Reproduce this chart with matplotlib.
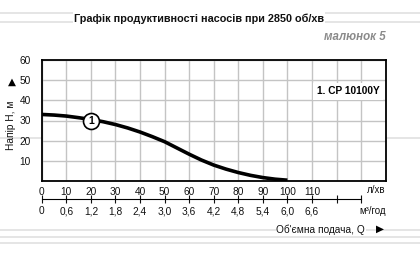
import matplotlib
matplotlib.use("Agg")
import matplotlib.pyplot as plt
from matplotlib.lines import Line2D

plt.rcParams['font.family'] = ['Liberation Sans', 'DejaVu Sans']

# Data
flow_lpm = [0, 5, 10, 15, 20, 25, 30, 35, 40, 45, 50, 55, 60, 65, 70, 75, 80, 85, 90, 95, 100]
head_m = [33.0, 32.7, 32.2, 31.4, 30.5, 29.4, 28.0, 26.3, 24.3, 22.0, 19.5, 16.4, 13.3, 10.4, 7.9, 5.9, 4.2, 2.8, 1.7, 0.9, 0.4]
x_ticks_lpm = [0, 10, 20, 30, 40, 50, 60, 70, 80, 90, 100, 110, 120, 130, 140]
x_labels_lpm = ['0', '10', '20', '30', '40', '50', '60', '70', '80', '90', '100', '110', '', '', '']
x_ticks_m3h = [0, 10, 20, 30, 40, 50, 60, 70, 80, 90, 100, 110, 120, 130]
x_labels_m3h = ['0', '0,6', '1,2', '1,8', '2,4', '3,0', '3,6', '4,2', '4,8', '5,4', '6,0', '6,6', '', '']
y_ticks = [0, 10, 20, 30, 40, 50, 60]
y_labels = ['', '10', '20', '30', '40', '50', '60']
curve_label = '1'
curve_name = '1. CP 10100Y'
label_at = (20, 30)

W, H = 420, 256
fig = plt.figure(figsize=(W / 100, H / 100), dpi=100)

def fy(py):
    return 1 - py / H

def fx(px):
    return px / W

# decorative light gray rules
for py in (12.5, 22.0, 137.5, 230.0, 236.7, 242.7):
    fig.add_artist(Line2D([0, 1], [fy(py), fy(py)], color='#e3e3e3', lw=1.3, zorder=0))

ax_l, ax_r, ax_t, ax_b = 41.7, 385.7, 60.0, 181.0
ax = fig.add_axes([fx(ax_l), fy(ax_b), (ax_r - ax_l) / W, (ax_b - ax_t) / H])
ax.set_facecolor('white')
ax.set_xlim(0, 140)
ax.set_ylim(0, 60)
ax.set_xticks(x_ticks_lpm)
ax.set_xticklabels(x_labels_lpm)
ax.set_yticks(y_ticks)
ax.set_yticklabels(y_labels)
ax.tick_params(axis='both', length=0, labelsize=7.3, colors='#111111')
ax.tick_params(axis='x', pad=4)
ax.tick_params(axis='y', pad=8)
ax.grid(True, color='#c4c4c4', lw=1.0)
ax.set_axisbelow(True)
for s in ax.spines.values():
    s.set_linewidth(1.3)
    s.set_color('black')

ax.plot(flow_lpm, head_m, color='black', lw=2.6, solid_capstyle='butt', zorder=3)
ax.plot([label_at[0]], [label_at[1]], marker='o', ms=11.5, mfc='white', mec='black', mew=1.2, zorder=4)
ax.text(label_at[0], label_at[1], curve_label, ha='center', va='center', fontsize=7.5,
        fontweight='bold', zorder=5)
ax.text(137.5, 44.5, curve_name, ha='right', va='center', fontsize=7.3, fontweight='bold',
        bbox=dict(facecolor='white', edgecolor='none', pad=2.5), zorder=5)

def afrac(py):
    return (ax_b - py) / (ax_b - ax_t)

# unit on first row
ax.text(1.0, afrac(190), 'л/хв', transform=ax.transAxes, ha='right', va='center',
        fontsize=7.0, color='#111111')

# secondary axis (m3/h)
sec = ax.secondary_xaxis(afrac(199.3))
sec.set_xticks(x_ticks_m3h)
sec.set_xticklabels([''] * len(x_ticks_m3h))
sec.tick_params(axis='x', direction='inout', length=6, width=0.8, colors='#111111')
sec.spines['bottom'].set_bounds(0, 130)
sec.spines['bottom'].set_linewidth(0.8)
xtr = ax.get_xaxis_transform()
for xv, lbl in zip(x_ticks_m3h, x_labels_m3h):
    if lbl:
        ax.text(xv, afrac(214.3), lbl, transform=xtr, ha='center', va='baseline',
                fontsize=7.3, color='#111111', clip_on=False)
ax.text(1.0, afrac(211.5), 'м³/год', transform=ax.transAxes, ha='right', va='center',
        fontsize=7.0, color='#111111')

# titles
fig.text(fx(199), fy(18.5), 'Графік продуктивності насосів при 2850 об/хв', ha='center', va='center',
         fontsize=7.8, fontweight='bold', color='#111111',
         bbox=dict(facecolor='white', edgecolor='none', pad=1.0))
fig.text(fx(386), fy(37), 'малюнок 5', ha='right', va='center', fontsize=8.3, fontweight='bold',
         style='italic', color='#8a8a8a')

# axis labels
fig.text(fx(11), fy(125), 'Напір H, м', rotation=90, ha='center', va='center', fontsize=7.3, color='#111111')
fig.text(fx(11.5), fy(82), '▲', ha='center', va='center', fontsize=7.5, color='black', family='DejaVu Sans')
fig.text(fx(365), fy(230), 'Об\'ємна подача, Q', ha='right', va='center', fontsize=7.3, color='#111111',
         bbox=dict(facecolor='white', edgecolor='none', pad=0.5))
fig.text(fx(380), fy(229), '▶', ha='center', va='center', fontsize=7.5, color='black', family='DejaVu Sans')

fig.savefig('out.png', dpi=100)
